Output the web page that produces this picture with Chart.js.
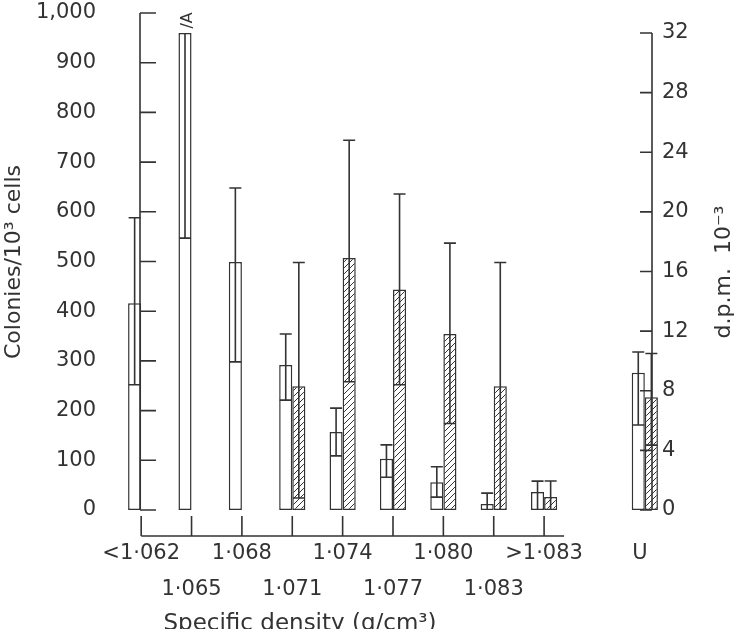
<!DOCTYPE html>
<html><head><meta charset="utf-8">
<script src="https://cdn.jsdelivr.net/npm/chart.js@4"></script>
<style>html,body{margin:0;padding:0;background:#fff;overflow:hidden}canvas{display:block}</style>
</head><body><canvas id="c" width="754" height="629" style="width:754px;height:629px"></canvas>
<script>
const categories = ['<1·062','1·065','1·068','1·071','1·074','1·077','1·080','1·083','>1·083','','U'];
const colonies    = [416, 960, 499, 292, 157, 103, 56, 12, 36, null, 276];
const coloniesLo  = [252, 547, 298, 221, 109, 66, 26, 0, 0, null, 171];
const coloniesHi  = [588, null, 648, 354, 205, 131, 87, 34, 58, null, 318];
const dpm         = [null, null, null, 8.3, 16.9, 14.8, 11.8, 8.3, 0.87, null, 7.56];
const dpmLo       = [null, null, null, 0.8, 8.6, 8.4, 5.8, 0, 0, null, 4.35];
const dpmHi       = [null, null, null, 16.6, 24.8, 21.2, 17.9, 16.6, 1.95, null, 10.5];
const leftTicks  = [0,100,200,300,400,500,600,700,800,900,1000];
const leftLabels = ['0','100','200','300','400','500','600','700','800','900','1,000'];
const rightTicks = [0,4,8,12,16,20,24,28,32];

const INK = '#333';
const FONT = '"DejaVu Sans", sans-serif';

function hatch(){
  const p = document.createElement('canvas'); p.width = 6; p.height = 6;
  const g = p.getContext('2d');
  g.fillStyle = '#fff'; g.fillRect(0,0,6,6);
  g.strokeStyle = INK; g.lineWidth = 1;
  g.beginPath(); g.moveTo(0,6); g.lineTo(6,0); g.moveTo(-1,1); g.lineTo(1,-1); g.moveTo(5,7); g.lineTo(7,5); g.stroke();
  return g.createPattern(p,'repeat');
}

const deco = {
  id:'deco',
  afterDatasetsDraw(chart){
    const {ctx, scales:{x, y, y2}} = chart;
    ctx.save();
    ctx.strokeStyle = INK; ctx.fillStyle = INK; ctx.lineWidth = 1.6;
    const drawErr = (dsIdx, vals, lo, hi, sc) => {
      const meta = chart.getDatasetMeta(dsIdx);
      meta.data.forEach((bar, i) => {
        if (vals[i] == null) return;
        const cx = bar.x;
        const top = hi[i] == null ? sc.getPixelForValue(vals[i]) : sc.getPixelForValue(hi[i]);
        const bot = sc.getPixelForValue(lo[i]);
        ctx.beginPath(); ctx.moveTo(cx, top); ctx.lineTo(cx, bot);
        if (hi[i] != null){ ctx.moveTo(cx-6, top); ctx.lineTo(cx+6, top); }
        if (lo[i] > 0){ ctx.moveTo(cx-6, bot); ctx.lineTo(cx+6, bot); }
        ctx.stroke();
      });
    };
    drawErr(0, colonies, coloniesLo, coloniesHi, y);
    drawErr(1, dpm, dpmLo, dpmHi, y2);
    const b1 = chart.getDatasetMeta(0).data[1];
    ctx.save(); ctx.translate(b1.x+3, y.getPixelForValue(985)); ctx.rotate(-Math.PI/2);
    ctx.font = '16px '+FONT; ctx.textAlign='center'; ctx.textBaseline='middle';
    ctx.fillText('/A', 0, 0); ctx.restore();

    const y0 = y.getPixelForValue(0);
    const lx = 140;
    ctx.beginPath(); ctx.moveTo(lx, y.getPixelForValue(1000)); ctx.lineTo(lx, y0);
    ctx.font = '21px '+FONT; ctx.textAlign='right'; ctx.textBaseline='middle';
    leftTicks.forEach((t,i) => { const py = y.getPixelForValue(t); ctx.moveTo(lx, py); ctx.lineTo(lx+16, py); ctx.fillText(leftLabels[i], 96, py); });
    ctx.stroke();
    const rx = 652;
    ctx.beginPath(); ctx.moveTo(rx, y2.getPixelForValue(32)); ctx.lineTo(rx, y0);
    ctx.textAlign='left';
    rightTicks.forEach(t => { const py = y2.getPixelForValue(t); ctx.moveTo(rx, py); ctx.lineTo(rx-12, py); ctx.fillText(String(t), 662, py); });
    ctx.stroke();
    const by = 536;
    ctx.beginPath();
    ctx.moveTo(x.getPixelForValue(0), by); ctx.lineTo(x.getPixelForValue(8)+20, by);
    for (let i=0;i<9;i++){ const px = x.getPixelForValue(i); ctx.moveTo(px, by); ctx.lineTo(px, by-20); }
    ctx.stroke();
    ctx.textAlign='center'; ctx.textBaseline='middle';
    categories.forEach((c,i) => {
      if (!c) return;
      const px = x.getPixelForValue(i) - (i===10 ? 5 : 0);
      ctx.fillText(c, px, (i%2===0 || i===10) ? 554 : 590);
    });
    ctx.font = '23px '+FONT;
    ctx.fillText('Specific density (g/cm³)', 300, 624);
    ctx.save(); ctx.translate(14, 262); ctx.rotate(-Math.PI/2);
    ctx.font = '22px '+FONT; ctx.fillText('Colonies/10³ cells', 0, 0); ctx.restore();
    ctx.save(); ctx.translate(724, 272); ctx.rotate(-Math.PI/2);
    ctx.font = '22px '+FONT; ctx.fillText('d.p.m.  10⁻³', 0, 0); ctx.restore();
    ctx.restore();
  }
};

new Chart(document.getElementById('c'), {
  type:'bar',
  data:{ labels: categories, datasets:[
    { data: colonies, yAxisID:'y', backgroundColor:'#fff', borderColor:INK, borderWidth:1.5, borderSkipped:false },
    { data: dpm, yAxisID:'y2', backgroundColor: hatch(), borderColor:INK, borderWidth:1.5, borderSkipped:false }
  ]},
  options:{
    responsive:false, animation:false, devicePixelRatio:1,
    layout:{ padding:{ left:116, right:84, top:13, bottom:119 } },
    plugins:{ legend:{display:false}, tooltip:{enabled:false} },
    datasets:{ bar:{ categoryPercentage:0.52, barPercentage:1, skipNull:false } },
    scales:{
      x:{ display:false, offset:true },
      y:{ display:false, min:0, max:1000 },
      y2:{ display:false, min:0, max:33.34 }
    }
  },
  plugins:[deco]
});
</script></body></html>
